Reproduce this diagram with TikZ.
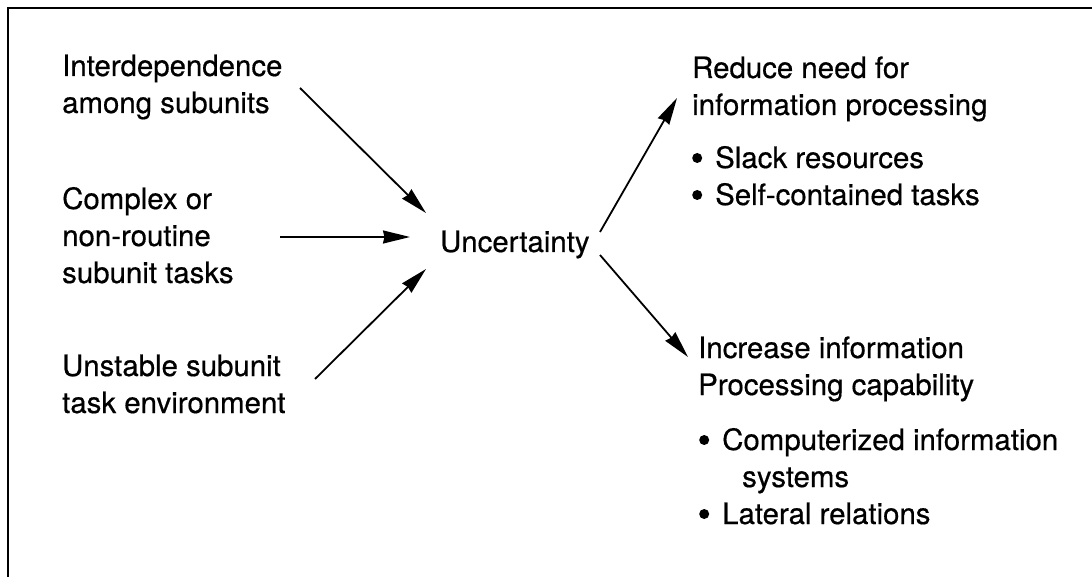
\documentclass[tikz,border=0pt]{standalone}
\usepackage{fontspec}
\setmainfont[FakeBold=0.5]{TeX Gyre Heros}
\usetikzlibrary{arrows.meta}
\newcommand{\lines}[1]{\begin{tabular}[t]{@{}l@{}}#1\end{tabular}}
% round list marker, 10pt across, followed by the gap to the item text
\newcommand{\itemdot}{\makebox[23pt][l]{\tikz[baseline={(0pt,0pt)}]{\fill (5pt,10pt) circle (5pt);}}}
\begin{document}
\begin{tikzpicture}[x=1pt,y=-1pt,
  lbl/.style={anchor=base west, inner sep=0pt, font=\fontsize{29.4}{37}\selectfont},
  flow/.style={line width=1.8pt, -{Stealth[length=27pt,width=13pt,inset=1.5pt]}}]
\useasboundingbox (0,0) rectangle (1092,577);
% frame (top and left edges)
\draw[line width=2.5pt] (8,577) -- (8,8) -- (1092,8);

% causes
\node[lbl] (inter) at (62,76) {\lines{Interdependence\\among subunits}};
\node[lbl] (complex) at (62,209) {\lines{Complex or\\non-routine\\subunit tasks}};
\node[lbl] (unstable) at (62,376) {\lines{Unstable subunit\\task environment}};

% central node
\node[lbl] (unc) at (440,252) {Uncertainty};

% responses
\node[lbl] (reduce) at (692,78) {\lines{Reduce need for\\information processing}};
\node[lbl] (redlist) at (692,168) {\lines{\itemdot Slack resources\\\itemdot Self-contained tasks}};
\node[lbl] (increase) at (698,358) {\lines{Increase information\\Processing capability}};
\node[lbl] (inclist) at (699,450) {\lines{\itemdot Computerized information\\\hspace*{43pt}systems\\\itemdot Lateral relations}};

% arrow end points
\coordinate (interOut) at (300,88);
\coordinate (complexOut) at (280,237);
\coordinate (unstableOut) at (315,379);
\coordinate (uncInA) at (426,213);
\coordinate (uncInB) at (410,237);
\coordinate (uncInC) at (426,269);
\coordinate (uncOutA) at (600,232);
\coordinate (uncOutB) at (600,255);
\coordinate (reduceIn) at (677,98);
\coordinate (increaseIn) at (688,357);

\draw[flow] (interOut) -- (uncInA);
\draw[flow] (complexOut) -- (uncInB);
\draw[flow] (unstableOut) -- (uncInC);
\draw[flow] (uncOutA) -- (reduceIn);
\draw[flow] (uncOutB) -- (increaseIn);
\end{tikzpicture}
\end{document}
